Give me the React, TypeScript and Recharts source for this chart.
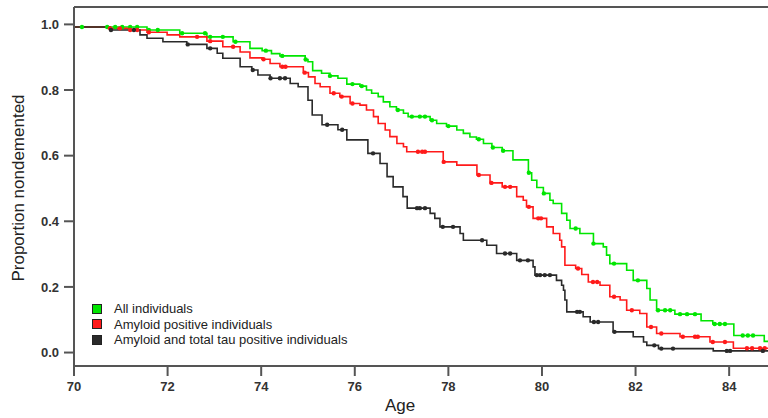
import {
	ComposedChart,
	Line,
	Scatter,
	XAxis,
	YAxis,
	Label,
	ReferenceLine,
} from "recharts";

// Kaplan-Meier step points: [age, proportion]
const allIndividuals: [number, number][] = [
	[70.0, 0.992], [71.56, 0.983], [72.26, 0.973], [72.84, 0.962], [73.4, 0.947],
	[73.76, 0.927], [74.02, 0.92], [74.22, 0.911], [74.4, 0.904], [74.94, 0.893],
	[75.0, 0.886], [75.1, 0.859], [75.29, 0.851], [75.47, 0.843], [75.64, 0.836],
	[75.83, 0.818], [76.11, 0.812], [76.25, 0.8], [76.36, 0.79], [76.5, 0.78],
	[76.61, 0.764], [76.75, 0.749], [76.89, 0.739], [77.04, 0.729], [77.14, 0.719],
	[77.61, 0.708], [77.75, 0.698], [77.96, 0.69], [78.18, 0.678], [78.32, 0.668],
	[78.46, 0.657], [78.6, 0.65], [78.75, 0.637], [78.93, 0.625], [79.15, 0.615],
	[79.38, 0.587], [79.71, 0.548], [79.78, 0.525], [79.89, 0.503], [80.03, 0.485],
	[80.17, 0.464], [80.24, 0.454], [80.42, 0.424], [80.53, 0.403], [80.6, 0.378],
	[80.81, 0.363], [81.1, 0.332], [81.31, 0.322], [81.38, 0.297], [81.45, 0.271],
	[81.81, 0.251], [81.95, 0.22], [82.24, 0.195], [82.31, 0.16], [82.45, 0.129],
	[82.84, 0.117], [83.4, 0.097], [83.65, 0.087], [84.1, 0.052], [84.75, 0.034],
	[84.83, 0.034],
];

const amyloidPositive: [number, number][] = [
	[70.0, 0.992], [70.77, 0.988], [71.2, 0.983], [71.56, 0.976], [71.99, 0.968],
	[72.26, 0.962], [72.84, 0.949], [73.18, 0.932], [73.55, 0.916], [73.76, 0.898],
	[74.02, 0.894], [74.19, 0.881], [74.4, 0.871], [74.9, 0.853], [75.01, 0.84],
	[75.15, 0.82], [75.26, 0.81], [75.47, 0.79], [75.68, 0.78], [75.9, 0.759],
	[76.11, 0.754], [76.25, 0.739], [76.4, 0.719], [76.5, 0.698], [76.65, 0.678],
	[76.75, 0.658], [76.9, 0.637], [77.04, 0.627], [77.11, 0.612], [77.89, 0.581],
	[78.18, 0.571], [78.61, 0.541], [78.89, 0.517], [79.15, 0.505], [79.46, 0.475],
	[79.6, 0.464], [79.67, 0.444], [79.81, 0.409], [80.1, 0.383], [80.24, 0.363],
	[80.38, 0.342], [80.42, 0.322], [80.49, 0.266], [80.72, 0.256], [80.85, 0.238],
	[80.99, 0.215], [81.24, 0.205], [81.45, 0.17], [81.67, 0.16], [81.81, 0.129],
	[82.09, 0.119], [82.24, 0.078], [82.45, 0.058], [82.95, 0.048], [83.59, 0.032],
	[84.09, 0.013], [84.83, 0.013],
];

const amyloidTau: [number, number][] = [
	[70.0, 0.992], [70.77, 0.983], [71.41, 0.968], [71.56, 0.958], [71.9, 0.947],
	[72.41, 0.939], [72.84, 0.927], [73.06, 0.912], [73.18, 0.897], [73.55, 0.871],
	[73.8, 0.861], [73.93, 0.846], [74.19, 0.836], [74.62, 0.82], [74.79, 0.81],
	[75.0, 0.769], [75.09, 0.724], [75.3, 0.694], [75.64, 0.679], [75.83, 0.648],
	[76.28, 0.607], [76.54, 0.576], [76.69, 0.536], [76.82, 0.505], [77.03, 0.475],
	[77.12, 0.44], [77.61, 0.424], [77.71, 0.409], [77.82, 0.383], [78.25, 0.363],
	[78.32, 0.342], [78.82, 0.327], [79.03, 0.302], [79.46, 0.281], [79.81, 0.261],
	[79.85, 0.236], [80.31, 0.22], [80.42, 0.205], [80.46, 0.19], [80.49, 0.16],
	[80.53, 0.124], [80.88, 0.109], [81.03, 0.093], [81.52, 0.063], [81.95, 0.048],
	[82.17, 0.032], [82.24, 0.022], [82.49, 0.012], [83.66, 0.005], [84.83, 0.005],
];

// censoring marks (ages)
const allCensored = [
	70.17, 70.71, 70.88, 71.03, 71.2, 71.35, 71.6, 71.79, 72.31, 72.8, 72.91, 73.18,
	73.45, 74.1, 74.45, 74.95, 75.47, 75.95, 76.15, 76.92, 77.22, 77.39, 77.5, 77.65,
	78.0, 78.65, 78.95, 79.17, 79.72, 80.04, 80.72, 81.1, 81.54, 82.05, 82.48, 82.63,
	82.74, 82.95, 83.1, 83.27, 83.69, 83.8, 83.91, 84.29, 84.4, 84.51,
];
const amyloidCensored = [
	70.77, 70.98, 71.2, 71.35, 71.6, 72.63, 72.91, 73.4, 74.05, 74.45, 74.52, 74.93,
	75.55, 75.72, 75.95, 77.35, 77.44, 77.5, 77.9, 78.65, 78.92, 79.21, 79.32, 79.72,
	79.92, 79.98, 80.77, 81.09, 81.18, 81.54, 81.92, 82.33, 82.55, 83.01, 83.27, 83.33,
	83.65, 83.91, 84.38, 84.49, 84.66, 84.76,
];
const tauCensored = [
	70.79, 71.28, 72.43, 72.91, 73.82, 74.2, 74.4, 74.51, 75.41, 75.73, 76.39, 77.33,
	77.39, 77.5, 77.88, 78.1, 78.72, 79.21, 79.32, 79.53, 79.7, 79.89, 79.96, 80.06,
	80.17, 80.75, 80.81, 81.11, 81.2, 81.55, 82.4, 82.55, 82.8, 83.95, 84.02, 84.72,
];

const xTicks = [70, 72, 74, 76, 78, 80, 82, 84];
const yTicks = [0, 0.2, 0.4, 0.6, 0.8, 1.0];

const GREEN = "#00e600";
const RED = "#ff1a1a";
const BLACK = "#2a2a2a";
const AXIS = "#555";
const FONT = "Liberation Sans, Arial, sans-serif";
const Y_TOP = 1.053;

const toRows = (pts: [number, number][]) => pts.map(([x, y]) => ({ x, y }));

// value of the step curve at a given age
const stepAt = (pts: [number, number][], age: number) => {
	let v = pts[0][1];
	for (const [x, y] of pts) {
		if (x <= age) v = y;
	}
	return v;
};

const marks = (pts: [number, number][], ages: number[]) =>
	ages.map((a) => ({ x: a, y: stepAt(pts, a) }));

const series = [
	{ name: "All individuals", color: GREEN, pts: allIndividuals, cens: allCensored },
	{ name: "Amyloid positive individuals", color: RED, pts: amyloidPositive, cens: amyloidCensored },
	{ name: "Amyloid and total tau positive individuals", color: BLACK, pts: amyloidTau, cens: tauCensored },
];

const tickStyle = {
	fill: "#333",
	fontSize: 13,
	fontWeight: 700,
	fontFamily: FONT,
};

const LegendBox = () => (
	<div
		style={{
			position: "absolute",
			left: 92,
			top: 301,
			fontFamily: FONT,
			fontSize: 13,
			color: "#222",
		}}
	>
		{series.map((s) => (
			<div key={s.name} style={{ display: "flex", alignItems: "center", height: 15.5 }}>
				<span
					style={{
						width: 8,
						height: 8,
						background: s.color,
						border: "1px solid #222",
						marginRight: 12,
						display: "inline-block",
					}}
				/>
				<span>{s.name}</span>
			</div>
		))}
	</div>
);

export default function App() {
	return (
		<div style={{ position: "absolute", left: 0, top: 0, width: 768, height: 418, background: "#fff" }}>
			<ComposedChart
				width={768}
				height={418}
				margin={{ top: 7, right: 0, left: 0, bottom: 0 }}
			>
				<XAxis
					type="number"
					dataKey="x"
					domain={[70, 84.83]}
					ticks={xTicks}
					allowDataOverflow
					height={52}
					tickSize={10}
					tickLine={{ stroke: AXIS, strokeWidth: 2 }}
					axisLine={{ stroke: AXIS, strokeWidth: 2 }}
					tick={tickStyle}
					tickMargin={6}
				>
					<Label
						content={() => (
							<text x={400} y={411} textAnchor="middle" fontSize={17} fill="#222" fontFamily={FONT}>
								Age
							</text>
						)}
					/>
				</XAxis>
				<YAxis
					type="number"
					dataKey="y"
					domain={[-0.041, Y_TOP]}
					ticks={yTicks}
					allowDataOverflow
					width={74}
					tickSize={10}
					tickLine={{ stroke: AXIS, strokeWidth: 2 }}
					axisLine={{ stroke: AXIS, strokeWidth: 2 }}
					tick={tickStyle}
					tickMargin={5}
					tickFormatter={(v: number) => v.toFixed(1)}
				>
					<Label
						content={() => (
							<text
								x={24}
								y={188}
								transform="rotate(-90 24 188)"
								textAnchor="middle"
								fontSize={17}
								fill="#222"
								fontFamily={FONT}
							>
								Proportion nondemented
							</text>
						)}
					/>
				</YAxis>
				<ReferenceLine y={Y_TOP} stroke={AXIS} strokeWidth={2} ifOverflow="visible" />
				{series.map((s) => (
					<Line
						key={s.name}
						data={toRows(s.pts)}
						dataKey="y"
						type="stepAfter"
						stroke={s.color}
						strokeWidth={1.6}
						dot={false}
						activeDot={false}
						isAnimationActive={false}
					/>
				))}
				{series.map((s) => (
					<Scatter
						key={s.name + "-c"}
						data={marks(s.pts, s.cens)}
						dataKey="y"
						fill={s.color}
						isAnimationActive={false}
						shape={(p: any) => <circle cx={p.cx} cy={p.cy} r={2.2} fill={s.color} />}
					/>
				))}
			</ComposedChart>
			<LegendBox />
		</div>
	);
}
